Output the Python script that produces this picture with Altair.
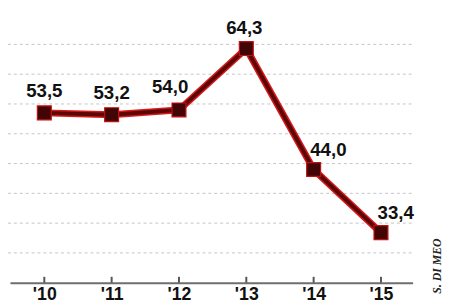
import altair as alt
import pandas as pd

years = [10, 11, 12, 13, 14, 15]
values = [53.5, 53.2, 54.0, 64.3, 44.0, 33.4]
labels = ["53,5", "53,2", "54,0", "64,3", "44,0", "33,4"]
grid_values = [30, 35, 40, 45, 50, 55, 60, 65]
credit = "S. DI MEO"

df = pd.DataFrame({"year": years, "value": values, "label": labels})
gdf = pd.DataFrame({"g": grid_values})

W, H = 410, 273
xs = alt.Scale(domain=[9.49, 15.47], nice=False, zero=False)
ys = alt.Scale(domain=[25, 70], nice=False, zero=False)

x_axis = alt.Axis(values=years, labelExpr="\"'\" + datum.value", ticks=False,
                  grid=False, domain=True, domainColor="#6e6e6e", domainWidth=2,
                  labelFont="Liberation Sans", labelFontWeight="bold", labelFontSize=18,
                  labelColor="#111", labelPadding=3, title=None)

X = alt.X("year:Q", scale=xs, axis=x_axis)
Y = alt.Y("value:Q", scale=ys, axis=None)

base = alt.Chart(df)

grid = alt.Chart(gdf).mark_rule(color="#c4c4c4", strokeWidth=1, strokeDash=[3, 3]).encode(
    y=alt.Y("g:Q", scale=ys, axis=None),
    x=alt.value(-2), x2=alt.value(W + 2),
)

ticks = base.mark_rule(color="#555", strokeWidth=2).encode(
    x=X, y=alt.value(H - 6), y2=alt.value(H),
)

line_under = base.mark_line(color="#d41a1a", strokeWidth=7).encode(x=X, y=Y)
line_top = base.mark_line(color="#5e0606", strokeWidth=4).encode(x=X, y=Y)
pts = base.mark_square(size=200, color="#420505", opacity=1, stroke="#c01010",
                       strokeWidth=1.2).encode(x=X, y=Y)

def lab(filt, dx, dy):
    return base.transform_filter(filt).mark_text(
        font="Liberation Sans", fontWeight="bold", fontSize=19, color="#111",
        align="center", baseline="alphabetic", dx=dx, dy=dy).encode(
        x=X, y=Y, text="label:N")

lab1 = lab("datum.year <= 11", 0, -16)
lab2 = lab("datum.year == 12", -9, -17)
lab3 = lab("datum.year == 13", -2, -15)
lab4 = lab("datum.year >= 14", 15, -14)

credit_txt = alt.Chart(pd.DataFrame({"t": [credit]})).mark_text(
    font="Liberation Sans Narrow", fontWeight="bold", fontStyle="italic", fontSize=12,
    color="#222", angle=270, align="center", baseline="middle").encode(
    x=alt.value(435), y=alt.value(256), text="t:N")

chart = alt.layer(grid, ticks, line_under, line_top, pts,
                  lab1, lab2, lab3, lab4, credit_txt).properties(
    width=W, height=H,
    autosize=alt.AutoSizeParams(type="none"),
    padding={"left": 2, "top": 4, "right": 34, "bottom": 21},
    background="white",
).configure_view(stroke=None)

chart.save("out.html", embed_options={"renderer": "svg", "actions": False})
